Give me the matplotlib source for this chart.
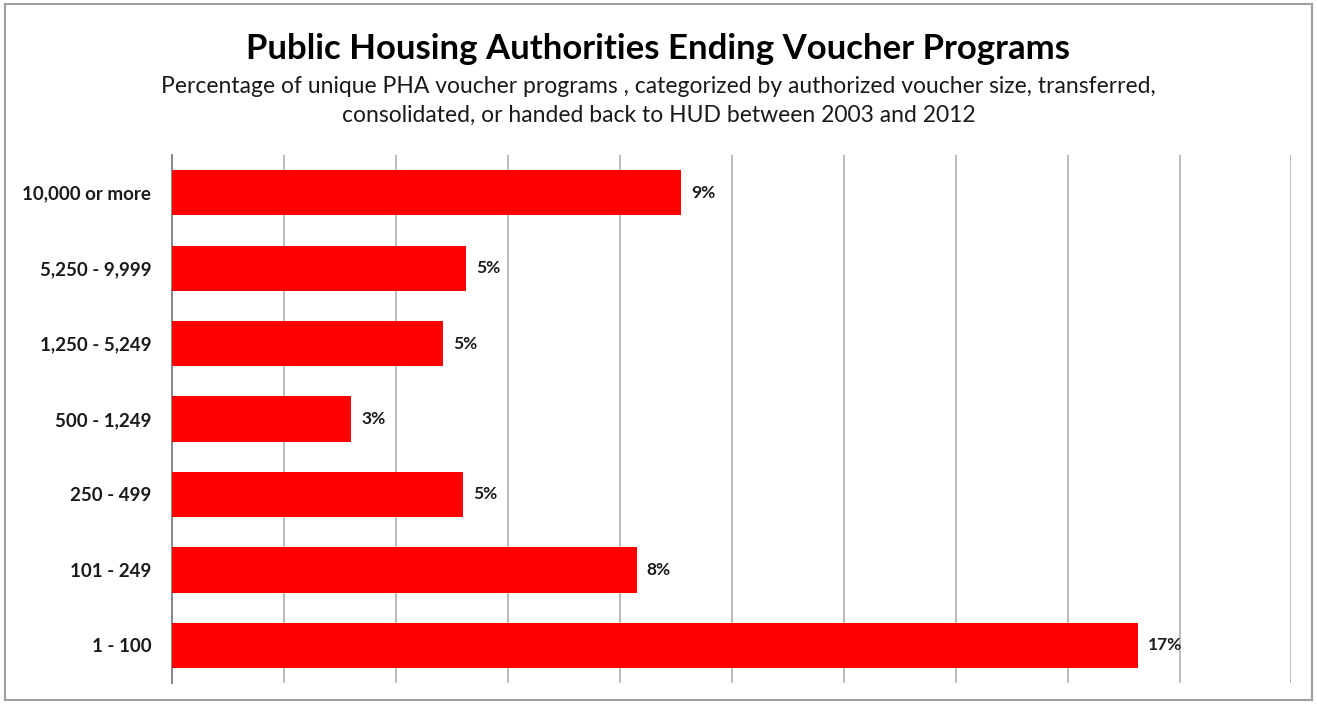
import matplotlib.pyplot as plt
from matplotlib.patches import Rectangle

categories = ["10,000 or more", "5,250 - 9,999", "1,250 - 5,249", "500 - 1,249",
              "250 - 499", "101 - 249", "1 - 100"]
values = [9.1, 5.25, 4.85, 3.2, 5.2, 8.3, 17.25]
labels = ["9%", "5%", "5%", "3%", "5%", "8%", "17%"]
grid_ticks = [0, 2, 4, 6, 8, 10, 12, 14, 16, 18, 20]

plt.rcParams['font.family'] = ['Lato', 'DejaVu Sans']

fig = plt.figure(figsize=(13.17, 7.04), dpi=100)
fig.patch.set_facecolor('white')
ax = fig.add_axes([0.1306, 0.0298, 0.8500, 0.7500])

ypos = list(range(len(categories)))[::-1]
ax.barh(ypos, values, height=0.6, color='#ff0000', zorder=3)
for y, v, t in zip(ypos, values, labels):
    ax.text(v + 0.18, y, t, va='center', ha='left', fontsize=12.5,
            fontweight='bold', color='#1a1a1a', zorder=4)

ax.set_xlim(0, 20)
ax.set_ylim(-0.5, 6.5)
ax.set_xticks(grid_ticks)
ax.set_xticklabels([])
ax.tick_params(axis='x', length=0)
ax.set_yticks(ypos)
ax.set_yticklabels(categories, fontsize=13.5, fontweight='bold', color='#1a1a1a')
ax.tick_params(axis='y', length=0, pad=15)
ax.grid(axis='x', color='#bbbbbb', linewidth=1.4, zorder=0)
for s in ['top', 'right', 'bottom']:
    ax.spines[s].set_visible(False)
ax.spines['left'].set_color('#888888')
ax.spines['left'].set_linewidth(1.4)

fig.text(0.5, 0.93, "Public Housing Authorities Ending Voucher Programs",
         ha='center', va='center', fontsize=25, fontweight='bold', color='black')
fig.text(0.5, 0.857, "Percentage of unique PHA voucher programs , categorized by authorized voucher size, transferred,\n"
         "consolidated, or handed back to HUD between 2003 and 2012",
         ha='center', va='center', fontsize=16.5, color='#1a1a1a', linespacing=1.45)

fig.patches.append(Rectangle((0.004, 0.006), 0.992, 0.988, transform=fig.transFigure,
                             fill=False, edgecolor='#a0a0a0', linewidth=1.5))

fig.savefig('out.png', dpi=100)
